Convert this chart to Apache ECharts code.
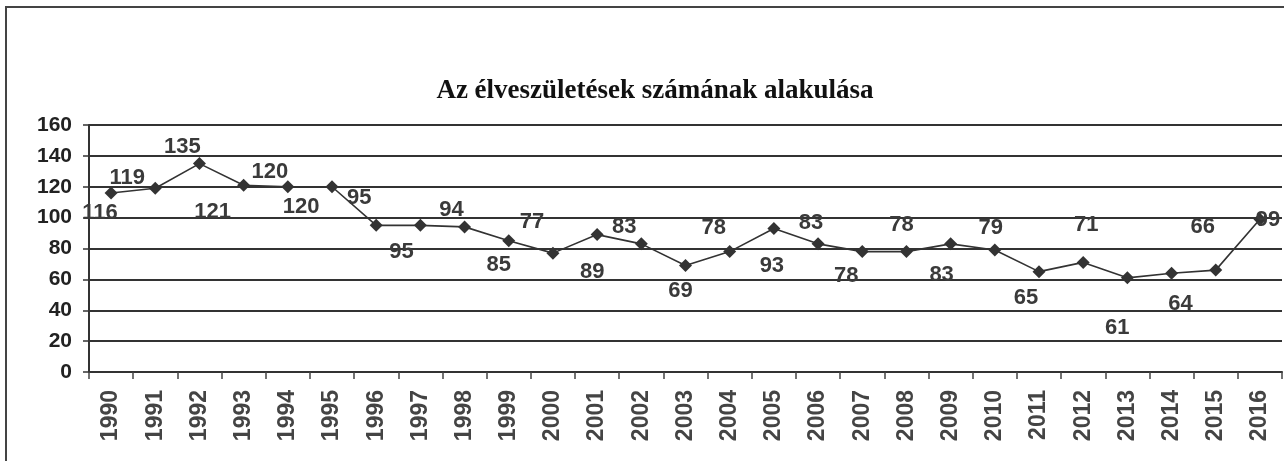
<!DOCTYPE html>
<html>
<head>
<meta charset="utf-8">
<script src="https://cdn.jsdelivr.net/npm/echarts@6/dist/echarts.min.js"></script>
<style>
  html, body { margin: 0; padding: 0; background: #fff; }
  .frame {
    position: absolute; left: 5px; top: 6px; right: 0; bottom: 0;
    border-top: 2px solid #444; border-left: 2px solid #444;
  }
  #chart { position: absolute; left: 0; top: 0; width: 1284px; height: 461px; }
</style>
</head>
<body>
<div class="frame"></div>
<div id="chart"></div>
<script>
const years = ['1990','1991','1992','1993','1994','1995','1996','1997','1998','1999',
  '2000','2001','2002','2003','2004','2005','2006','2007','2008','2009',
  '2010','2011','2012','2013','2014','2015','2016']
const births = [116, 119, 135, 121, 120, 120, 95, 95, 94, 85,
  77, 89, 83, 69, 78, 93, 83, 78, 78, 83,
  79, 65, 71, 61, 64, 66, 99]
const yTicks = [0, 20, 40, 60, 80, 100, 120, 140, 160]

// label offsets from the marker, as in the scanned original
const labelOffsets = [
  [-11, 20], [-28, -10], [-17, -17], [-31, 27], [-18, -15], [-31, 20], [-17, -27],
  [-19, 27], [-13, -17], [-10, 24], [-21, -31], [-5, 37], [-17, -17], [-5, 25],
  [-16, -24], [-2, 38], [-7, -21], [-16, 24], [-5, -27], [-9, 31], [-4, -22],
  [-13, 26], [3, -37], [-10, 50], [9, 31], [-13, -43], [8, 1]
]

const chart = echarts.init(document.getElementById('chart'))

const option = {
  animation: false,
  title: {
    text: 'Az élveszületések számának alakulása',
    left: 650,
    top: 73,
    textAlign: 'center',
    textStyle: {
      fontFamily: 'Liberation Serif',
      fontWeight: 'bold',
      fontSize: 27,
      color: '#111'
    }
  },
  grid: {
    left: 89,
    right: 2,
    top: 125,
    bottom: 89
  },
  xAxis: {
    type: 'category',
    data: years,
    boundaryGap: true,
    axisLine: { lineStyle: { color: '#333', width: 2 } },
    axisTick: { show: true, length: 7, lineStyle: { color: '#444', width: 1.5 } },
    axisLabel: {
      rotate: 90,
      interval: 0,
      fontFamily: 'Liberation Sans',
      fontWeight: 'bold',
      fontSize: 23,
      color: '#444',
      margin: 18
    }
  },
  yAxis: {
    type: 'value',
    min: yTicks[0],
    max: yTicks[yTicks.length - 1],
    interval: 20,
    axisLine: { show: true, lineStyle: { color: '#333', width: 2 } },
    axisTick: { show: true, length: 6, lineStyle: { color: '#333', width: 1.5 } },
    splitLine: { lineStyle: { color: '#333', width: 2 } },
    axisLabel: {
      fontFamily: 'Liberation Sans',
      fontWeight: 'bold',
      fontSize: 21,
      color: '#222',
      margin: 17
    }
  },
  series: [
    {
      type: 'line',
      data: births.map((v, i) => ({
        value: v,
        label: { offset: labelOffsets[i] }
      })),
      symbol: 'diamond',
      symbolSize: 13,
      lineStyle: { color: '#333', width: 1.6 },
      itemStyle: { color: '#333' },
      label: {
        show: true,
        position: 'inside',
        fontFamily: 'Liberation Sans',
        fontWeight: 'bold',
        fontSize: 22,
        color: '#3a3a3a'
      }
    }
  ]
}

chart.setOption(option)
window.onresize = function () {
  chart.resize()
}
</script>
</body>
</html>
